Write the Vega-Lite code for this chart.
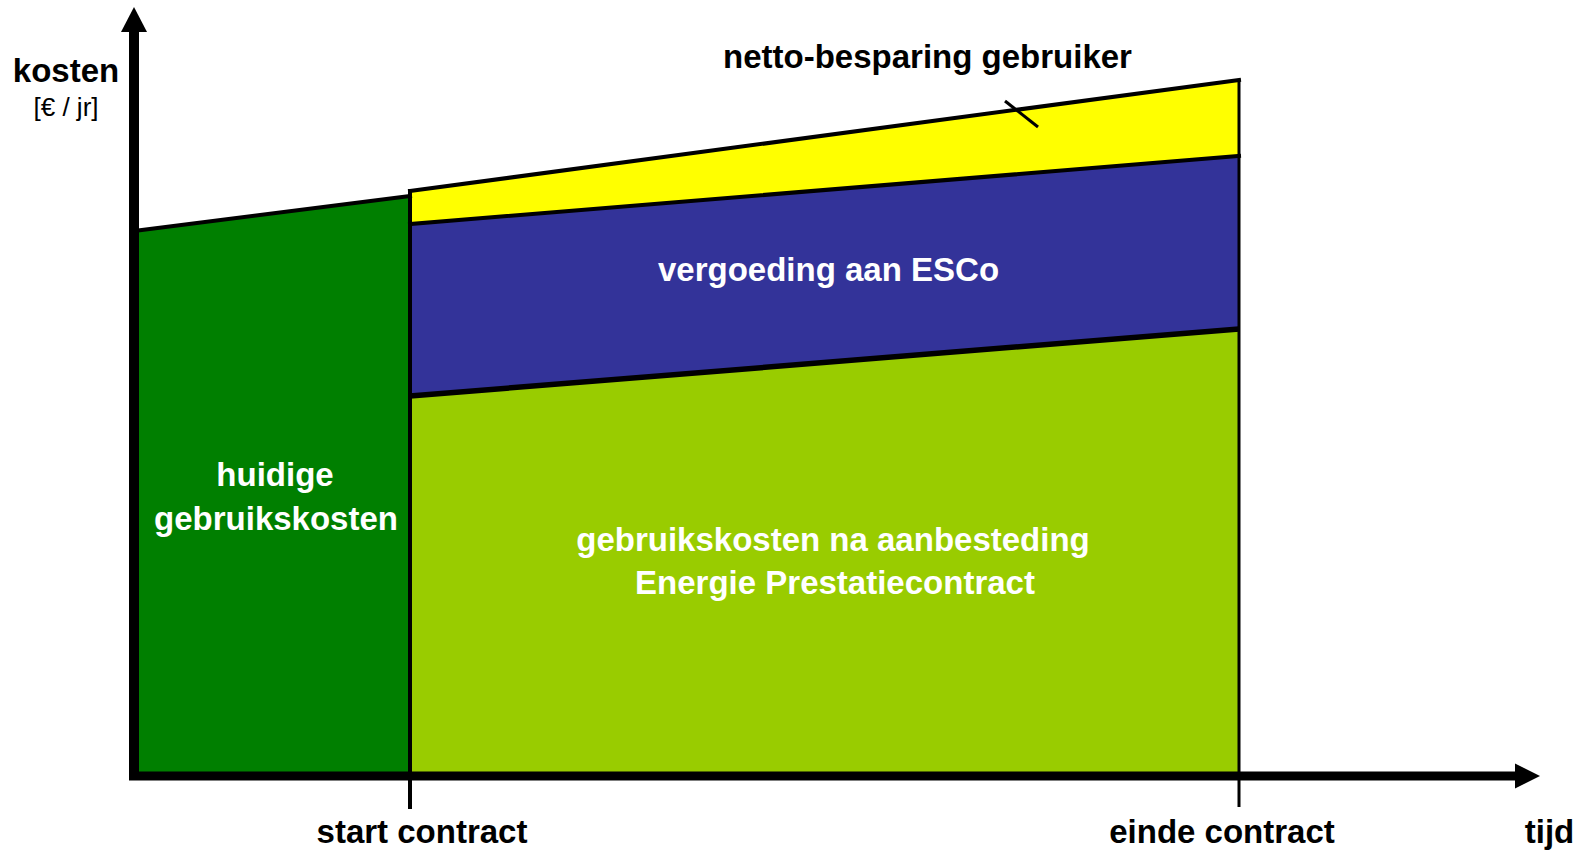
{
  "$schema": "https://vega.github.io/schema/vega-lite/v6.json",
  "width": 1594,
  "height": 852,
  "padding": 0,
  "autosize": {"type": "fit", "contains": "padding"},
  "background": "white",
  "config": {"view": {"stroke": null}},
  "datasets": {
    "regions": [
      {"region": "huidig", "t": 0, "hi": 545, "lo": 0},
      {"region": "huidig", "t": 276, "hi": 580, "lo": 0},
      {"region": "na", "t": 276, "hi": 380, "lo": 0},
      {"region": "na", "t": 1105, "hi": 447, "lo": 0},
      {"region": "esco", "t": 276, "hi": 552, "lo": 380},
      {"region": "esco", "t": 1105, "hi": 620, "lo": 447},
      {"region": "netto", "t": 276, "hi": 585, "lo": 552},
      {"region": "netto", "t": 1105, "hi": 696, "lo": 620},
      {"region": "yarrow", "t": -13, "hi": 744, "lo": 744},
      {"region": "yarrow", "t": 0, "hi": 769, "lo": 744},
      {"region": "yarrow", "t": 13, "hi": 744, "lo": 744},
      {"region": "xarrow", "t": 1381, "hi": 12.5, "lo": -12.5},
      {"region": "xarrow", "t": 1406, "hi": 0, "lo": 0}
    ],
    "segments": [
      {"kind": "edge", "t1": 0, "c1": 545, "t2": 276, "c2": 580},
      {"kind": "edge", "t1": 276, "c1": 585, "t2": 1105, "c2": 696},
      {"kind": "edge", "t1": 276, "c1": 552, "t2": 1105, "c2": 620},
      {"kind": "thick", "t1": 276, "c1": 380, "t2": 1105, "c2": 447},
      {"kind": "edge", "t1": 276, "c1": 0, "t2": 276, "c2": 585},
      {"kind": "thin", "t1": 1105, "c1": 0, "t2": 1105, "c2": 696},
      {"kind": "edge", "t1": 276, "c1": -31, "t2": 276, "c2": 0},
      {"kind": "thin", "t1": 1105, "c1": -31, "t2": 1105, "c2": 0},
      {"kind": "thin", "t1": 871, "c1": 675, "t2": 904, "c2": 649},
      {"kind": "yaxis", "t1": 0, "c1": -4, "t2": 0, "c2": 746},
      {"kind": "xaxis", "t1": -5, "c1": 0, "t2": 1383, "c2": 0}
    ],
    "labels": [
      {"group": "dark", "label": "kosten", "t": -68, "c": 694},
      {"group": "unit", "label": "[€ / jr]", "t": -68, "c": 660},
      {"group": "dark", "label": "netto-besparing gebruiker", "t": 793.5, "c": 708},
      {"group": "dark", "label": "start contract", "t": 288, "c": -67},
      {"group": "dark", "label": "einde contract", "t": 1088, "c": -67},
      {"group": "dark", "label": "tijd", "t": 1415.5, "c": -67},
      {"group": "light", "label": "vergoeding aan ESCo", "t": 694.5, "c": 495},
      {"group": "light", "label": "huidige", "t": 141, "c": 290},
      {"group": "light", "label": "gebruikskosten", "t": 142, "c": 246},
      {"group": "light", "label": "gebruikskosten na aanbesteding", "t": 699, "c": 225},
      {"group": "light", "label": "Energie Prestatiecontract", "t": 701, "c": 182}
    ]
  },
  "layer": [
    {
      "data": {"name": "regions"},
      "mark": {"type": "area", "orient": "vertical", "interpolate": "linear"},
      "encoding": {
        "x": {"field": "t", "type": "quantitative", "scale": {"domain": [-134, 1460], "nice": false, "zero": false}, "axis": null},
        "y": {"field": "hi", "type": "quantitative", "stack": null, "scale": {"domain": [-76, 776], "nice": false, "zero": false}, "axis": null},
        "y2": {"field": "lo"},
        "color": {
          "field": "region", "type": "nominal", "legend": null,
          "scale": {"domain": ["huidig", "na", "esco", "netto", "yarrow", "xarrow"], "range": ["#007F00", "#99CC00", "#333399", "#FFFF00", "#000000", "#000000"]}
        }
      }
    },
    {
      "data": {"name": "segments"},
      "transform": [{"filter": "datum.kind === 'edge'"}],
      "mark": {"type": "rule", "color": "black", "strokeWidth": 4, "strokeCap": "square"},
      "encoding": {
        "x": {"field": "t1", "type": "quantitative"},
        "y": {"field": "c1", "type": "quantitative"},
        "x2": {"field": "t2"},
        "y2": {"field": "c2"}
      }
    },
    {
      "data": {"name": "segments"},
      "transform": [{"filter": "datum.kind === 'thick'"}],
      "mark": {"type": "rule", "color": "black", "strokeWidth": 5.5, "strokeCap": "butt"},
      "encoding": {
        "x": {"field": "t1", "type": "quantitative"},
        "y": {"field": "c1", "type": "quantitative"},
        "x2": {"field": "t2"},
        "y2": {"field": "c2"}
      }
    },
    {
      "data": {"name": "segments"},
      "transform": [{"filter": "datum.kind === 'thin'"}],
      "mark": {"type": "rule", "color": "black", "strokeWidth": 3, "strokeCap": "butt"},
      "encoding": {
        "x": {"field": "t1", "type": "quantitative"},
        "y": {"field": "c1", "type": "quantitative"},
        "x2": {"field": "t2"},
        "y2": {"field": "c2"}
      }
    },
    {
      "data": {"name": "segments"},
      "transform": [{"filter": "datum.kind === 'yaxis'"}],
      "mark": {"type": "rule", "color": "black", "strokeWidth": 10, "strokeCap": "butt"},
      "encoding": {
        "x": {"field": "t1", "type": "quantitative"},
        "y": {"field": "c1", "type": "quantitative"},
        "x2": {"field": "t2"},
        "y2": {"field": "c2"}
      }
    },
    {
      "data": {"name": "segments"},
      "transform": [{"filter": "datum.kind === 'xaxis'"}],
      "mark": {"type": "rule", "color": "black", "strokeWidth": 9, "strokeCap": "butt"},
      "encoding": {
        "x": {"field": "t1", "type": "quantitative"},
        "y": {"field": "c1", "type": "quantitative"},
        "x2": {"field": "t2"},
        "y2": {"field": "c2"}
      }
    },
    {
      "data": {"name": "labels"},
      "transform": [{"filter": "datum.group === 'dark'"}],
      "mark": {"type": "text", "font": "Liberation Sans", "fontWeight": "bold", "fontSize": 33, "color": "black", "align": "center", "baseline": "alphabetic"},
      "encoding": {
        "x": {"field": "t", "type": "quantitative"},
        "y": {"field": "c", "type": "quantitative"},
        "text": {"field": "label"}
      }
    },
    {
      "data": {"name": "labels"},
      "transform": [{"filter": "datum.group === 'unit'"}],
      "mark": {"type": "text", "font": "Liberation Sans", "fontWeight": "normal", "fontSize": 26, "color": "black", "align": "center", "baseline": "alphabetic"},
      "encoding": {
        "x": {"field": "t", "type": "quantitative"},
        "y": {"field": "c", "type": "quantitative"},
        "text": {"field": "label"}
      }
    },
    {
      "data": {"name": "labels"},
      "transform": [{"filter": "datum.group === 'light'"}],
      "mark": {"type": "text", "font": "Liberation Sans", "fontWeight": "bold", "fontSize": 33, "color": "white", "align": "center", "baseline": "alphabetic"},
      "encoding": {
        "x": {"field": "t", "type": "quantitative"},
        "y": {"field": "c", "type": "quantitative"},
        "text": {"field": "label"}
      }
    }
  ]
}
